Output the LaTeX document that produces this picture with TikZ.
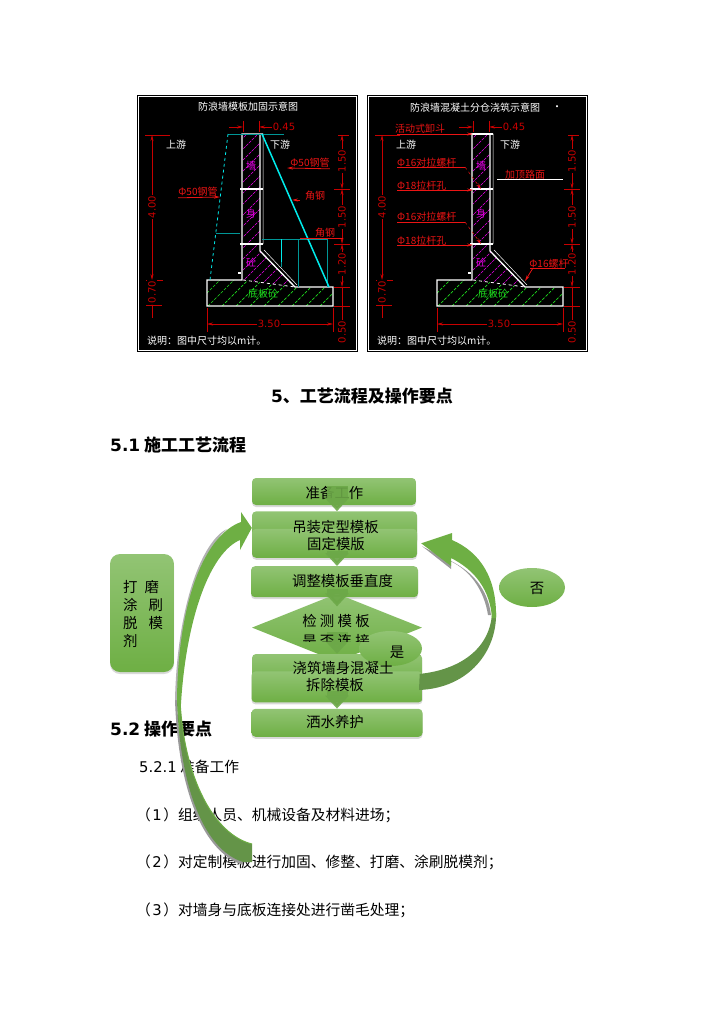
\documentclass[tikz,border=0pt]{standalone}
\usepackage{fontspec}
\setmainfont[Kerning=Off]{Noto Sans CJK SC}
\newfontfamily\latinfont{DejaVu Sans}
\usetikzlibrary{arrows.meta,calc,positioning,shadows,shapes.geometric}
\definecolor{fwtop}{RGB}{146,196,116}
\definecolor{fwbottom}{RGB}{110,175,68}
\definecolor{fwflow}{RGB}{108,168,72}
\definecolor{fwdark}{RGB}{100,148,72}
\definecolor{fwred}{RGB}{200,0,0}
\definecolor{fwlabel}{RGB}{235,20,20}
\definecolor{fwteal}{RGB}{0,150,150}
\definecolor{fwcyan}{RGB}{0,235,235}
\definecolor{fwpink}{RGB}{235,0,235}
\definecolor{fwlime}{RGB}{30,220,30}
\tikzset{
  fwbox/.style={rounded corners=4pt, top color=fwtop, bottom color=fwbottom, align=center, inner sep=0pt,
    drop shadow={shadow xshift=0pt, shadow yshift=-2pt, opacity=.3}},
  fwdiamond/.style={diamond, top color=fwtop, bottom color=fwbottom, inner sep=0pt, aspect=2.5},
  fwoval/.style={ellipse, top color=fwtop, bottom color=fwbottom, inner sep=0pt},
  fwarr/.style={line width=21pt, draw=fwflow, opacity=.9, -{Triangle[length=13pt, width=23pt]}},
  fwhead/.style={font=\fontsize{17}{20}\selectfont\bfseries, inner sep=0pt},
  fwtext/.style={inner sep=0pt, anchor=west, font=\fontsize{14.75}{18}\selectfont},
  fwword/.style={inner sep=0pt},
  cadtext/.style={font=\fontsize{10}{12}\selectfont, inner sep=0pt, text=#1},
  cadtext/.default=white,
  cadred/.style={cadtext=fwlabel},
  caddim/.style={font=\fontsize{10}{12}\selectfont\latinfont, inner sep=1pt, text=fwred, fill=black},
  dimline/.style={draw=fwred, line width=.6pt},
  dimarr/.style={dimline, {Stealth[length=6pt, width=3pt]}-{Stealth[length=6pt, width=3pt]}},
  leadarr/.style={draw=fwlabel, line width=.8pt, -{Stealth[length=6pt, width=3pt]}},
  wallline/.style={draw=white, line width=1.3pt},
  hatchpink/.style={draw=fwpink, line width=.6pt, dash pattern=on 3pt off 1pt},
  hatchlime/.style={draw=fwlime, line width=.7pt, dash pattern=on 3pt off 1.5pt}
}
% numbered item in the body text
\newcommand{\itemno}[1]{（\hspace{1.5pt}{\latinfont #1}\hspace{1.5pt}）}
% one black panel with the wall section and its dimensions
\newcommand{\wallpanel}{
  \fill[black] (137,95) rectangle (358,352);
  \draw[white, line width=.8pt] (138.5,96.5) rectangle (356.5,350.5);
  \begin{scope}
    \clip (243,134) -- (260,134) -- (260,251) -- (295,287) -- (243,280) -- cycle;
    \foreach \i in {80,91,...,296} \draw[hatchpink] (\i,290) -- ++(160,-160);
  \end{scope}
  \begin{scope}
    \clip (207,280) -- (243,280) -- (295,287) -- (333,287) -- (333,306) -- (207,306) -- cycle;
    \foreach \i in {180,194,...,333} \draw[hatchlime] (\i,306) -- ++(30,-30);
  \end{scope}
  \draw[wallline] (260,134) -- (260,251) -- (295,287) -- (333,287) -- (333,306) -- (207,306) -- (207,280) -- (242,280) -- (242,134) -- (263,134);
  \draw[white, line width=.5pt] (263,134) -- (263,244) (264,250) -- (297,285);
  \draw[wallline] (240,189) -- (263,189) (240,244) -- (263,244) (238,273) -- (241,273);
  \draw[white, line width=.8pt, dashed] (243,280) -- (295,287);
  % dimensions
  \draw[dimline] (145,135) -- (170,135) (146,280) -- (163,280) (146,305) -- (162,305);
  \draw[dimarr] (152,135) -- (152,280);
  \draw[dimarr] (152,280) -- (152,305);
  \draw[dimline] (152,305) -- (152,318);
  \draw[dimline] (338,135) -- (349,135) (334,189) -- (350,189) (334,244) -- (350,244) (334,287) -- (350,287) (334,306) -- (350,306);
  \draw[dimarr] (342,135) -- (342,189);
  \draw[dimarr] (342,189) -- (342,244);
  \draw[dimarr] (342,244) -- (342,287);
  \draw[dimline] (342,287) -- (342,340);
  \draw[dimline] (207,308) -- (207,332) (333,308) -- (333,332);
  \draw[dimarr] (207,324) -- (333,324);
  \draw[dimline] (243,121) -- (243,132) (259,121) -- (259,132);
  \draw[leadarr, draw=fwred] (229,127) -- (243,127);
  \draw[leadarr, draw=fwred] (272,127) -- (259,127);
  \node[caddim] at (284,127) {0.45};
  \node[caddim, rotate=90] at (152,207) {4.00};
  \node[caddim, rotate=90] at (152,292) {0.70};
  \node[caddim, rotate=90] at (342,161) {1.50};
  \node[caddim, rotate=90] at (342,217) {1.50};
  \node[caddim, rotate=90] at (342,264) {1.20};
  \node[caddim, rotate=90] at (342,332) {0.50};
  \node[caddim] at (269,324) {3.50};
  \node[cadtext] at (176,145) {上游};
  \node[cadtext] at (280,145) {下游};
  \node[cadtext=fwpink] at (251,166) {墙};
  \node[cadtext=fwpink] at (251,214) {身};
  \node[cadtext=fwpink] at (251,262) {砼};
  \node[cadtext=fwlime] at (263,294) {底板砼};
  \node[cadtext, anchor=west] at (147,341) {说明：图中尺寸均以m计。};
}
\begin{document}
\begin{tikzpicture}[x=1pt, y=-1pt, font=\fontsize{14.4}{18}\selectfont]
  \useasboundingbox (0,0) rectangle (724,1024);
  % left panel
  \wallpanel
  \draw[draw=fwteal, line width=.7pt] (228,134) -- (284,134) (216,233) -- (240,233) (262,239) -- (327,239);
  \draw[draw=fwteal, line width=.7pt] (298,239) -- (298,287) (327,239) -- (327,287) (281,262) -- (281,267);
  \draw[draw=fwcyan, line width=.7pt] (281,239) -- (281,262);
  \draw[draw=fwcyan, line width=.8pt, dashed] (228,134) -- (210,280);
  \draw[draw=fwcyan, line width=1.5pt] (262,134) -- (329,287);
  \node[cadtext] (ltitle) at (248,107) {防浪墙模板加固示意图};
  \node[cadred] (lpipeb) at (310,163) {Φ50钢管};
  \node[cadred] (lpipea) at (198,192) {Φ50钢管};
  \node[cadred] (langlea) at (315,196) {角钢};
  \node[cadred] (langleb) at (325,233) {角钢};
  \draw[leadarr] (lpipeb.south east) ++(0,1) -- (287,168);
  \draw[leadarr] (lpipea.south west) ++(0,1) -- (220,197);
  \draw[leadarr] (300,200) -- (292,200);
  \draw[draw=fwlabel, line width=.8pt] (300,238) -- (343,238);
  % right panel
  \begin{scope}[xshift=230pt]
    \wallpanel
    \draw[white, line width=1.3pt] (240,134) -- (263,134);
  \end{scope}
  \node[cadtext] (rtitle) at (475,108) {防浪墙混凝土分仓浇筑示意图};
  \node[cadtext] (rdot) at (557,108) {·};
  \node[cadred] (rhopper) at (420,129) {活动式卸斗};
  \node[cadred, anchor=west] (rrodc) at (397,163) {Φ16对拉螺杆};
  \node[cadred, anchor=west] (rholea) at (397,186) {Φ18拉杆孔};
  \node[cadred, anchor=west] (rrodd) at (397,217) {Φ16对拉螺杆};
  \node[cadred, anchor=west] (rholeb) at (397,241) {Φ18拉杆孔};
  \node[cadred] (rroad) at (525,175) {加顶路面};
  \node[cadred] (rbolt) at (549,264) {Φ16螺杆};
  \draw[leadarr] (397,134) -- (473,134);
  \draw[leadarr] (397,190) -- (473,190);
  \draw[leadarr] (397,245) -- (473,245);
  \draw[draw=fwlabel, line width=.8pt] (397,167) -- (465,167) (397,222) -- (465,222) (530,268) -- (565,268);
  \draw[draw=fwlabel, line width=.5pt, dashed, -{Stealth[length=6pt, width=3pt]}] (465,167) -- (481,189);
  \draw[draw=fwlabel, line width=.5pt, dashed, -{Stealth[length=6pt, width=3pt]}] (465,222) -- (481,244);
  \draw[leadarr] (533,268) -- (525,281);
  \draw[white, line width=.7pt] (497,179) -- (563,179);
  % headings
  \node[fwhead] (title) at (362,396) {{\latinfont 5}、工艺流程及操作要点};
  \node[fwhead, anchor=west] (secflow) at (110,445) {{\latinfont 5.1} 施工工艺流程};
  \node[fwhead, anchor=west] (secpoint) at (110,729) {{\latinfont 5.2} 操作要点};
  \node[fwtext] (ready) at (139,767) {{\latinfont 5.2.1} 准备工作};
  \node[fwtext] (itema) at (136,815) {\itemno{1}组织人员、机械设备及材料进场；};
  \node[fwtext] (itemb) at (136,862) {\itemno{2}对定制模板进行加固、修整、打磨、涂刷脱模剂；};
  \node[fwtext] (itemc) at (136,910) {\itemno{3}对墙身与底板连接处进行凿毛处理；};
  % flow
  \node[fwbox, minimum width=164pt, minimum height=27pt] (prep) at (334,491.5) {};
  \node[fwbox, minimum width=165pt, minimum height=33pt, below=6pt of prep, xshift=.5pt] (hoist) {};
  \node[fwbox, minimum width=165pt, minimum height=29pt, below=-16pt of hoist] (fix) {};
  \node[fwbox, minimum width=167pt, minimum height=31pt, below=8pt of fix] (adjust) {};
  \node[fwdiamond, minimum width=170pt, minimum height=68pt, below=-4pt of adjust, xshift=2.5pt] (check) {};
  \node[fwbox, minimum width=170pt, minimum height=34pt, below=-8pt of check] (cast) {};
  \node[fwbox, minimum width=171pt, minimum height=31pt, below=-17pt of cast] (remove) {};
  \node[fwbox, minimum width=171pt, minimum height=28pt, below=6pt of remove] (water) {};
  \node[fwoval, minimum width=63pt, minimum height=35pt] (yes) at (390.5,648.5) {};
  \node[fwoval, minimum width=66pt, minimum height=39pt] (no) at (532,587.5) {};
  \node[fwbox, rounded corners=10pt, minimum width=64pt, minimum height=118pt] (coat) at (142,613) {};
  \node[inner sep=0pt, anchor=west, align=left] (coattext) at (123,614) {打\hspace{7pt}磨\\涂\hspace{11pt}刷\\脱\hspace{11pt}模\\剂};
  \node[fwword] (preptext) at (334.5,493) {准备工作};
  \coordinate (flowx) at (337,0);
  \draw[fwarr] ([yshift=19pt]prep.south -| flowx) -- (hoist.north -| flowx);
  \draw[fwarr] ([yshift=7pt]fix.south -| flowx) -- (adjust.north -| flowx);
  \draw[fwarr] ([yshift=8pt]adjust.south -| flowx) -- ([yshift=-13pt]check.north -| flowx);
  \draw[fwarr] ([yshift=30pt]check.south -| flowx) -- (cast.north -| flowx);
  \draw[fwarr] ([yshift=12pt]remove.south -| flowx) -- (water.north -| flowx);
  \node[fwword] (hoisttext) at (335.5,527) {吊装定型模板};
  \node[fwword] (fixtext) at (336,544) {固定模版};
  \node[fwword] (adjusttext) at (342.5,581) {调整模板垂直度};
  \begin{scope}
    \clip (300,610) rectangle (375,641);
    \node[fwword, align=center] (checktext) at (336,631) {检\hspace{3.3pt}测\hspace{3.3pt}模\hspace{3.3pt}板\\[2pt]是\hspace{3.3pt}否\hspace{3.3pt}连\hspace{3.3pt}接};
  \end{scope}
  \node[fwword] (yestext) at (397,652) {是};
  \node[fwword] (notext) at (537,588) {否};
  \node[fwword] (casttext) at (343,668) {浇筑墙身混凝土};
  \node[fwword] (removetext) at (335,685) {拆除模板};
  \node[fwword] (watertext) at (335,722) {洒水养护};
  % big curved arrows
  \coordinate (backtip) at ([xshift=4pt]fix.east);
  \coordinate (backtail) at ([xshift=-3pt, yshift=13pt]remove.east);
  \fill[gray!80] ($(backtip)+(1,3)$) -- (451,569) -- (451,561) .. controls (473,572) and (488,590) .. (491,615) -- (488,615) .. controls (484,590) and (470,570) .. (450,561) -- cycle;
  \fill[fwdark] (496,613) .. controls (497,650) and (470,688) .. (419,690) -- (backtail) .. controls (458,670) and (490,650) .. (492,613) -- cycle;
  \fill[fwbottom] (backtip) -- (452,533) -- (452,540) .. controls (480,552) and (497,578) .. (496,618) -- (492,618) .. controls (490,590) and (475,570) .. (451,558) -- (451,566) -- cycle;
  \coordinate (overtip) at (hoist.west);
  \fill[gray!80] (175,700) .. controls (178,790) and (203,852) .. (243,865) -- (243,860) .. controls (210,845) and (180,790) .. (177,700) -- cycle;
  \fill[gray!60] (225,530) .. controls (200,545) and (177,610) .. (175,700) -- (178,700) .. controls (180,610) and (207,545) .. (227,529) -- cycle;
  \fill[fwdark] (177,700) .. controls (180,790) and (205,850) .. (243,862) -- (252,862) -- (252,844) .. controls (215,835) and (184,780) .. (180,700) -- cycle;
  \draw[fwbottom, line width=1pt] (252,844) .. controls (215,835) and (184,780) .. (180,700);
  \fill[fwbottom] (overtip) -- (241,512) -- (241,522) .. controls (205,535) and (178,600) .. (177,700) -- (180,737) .. controls (180,640) and (205,555) .. (240,540) -- (240,550) -- cycle;
\end{tikzpicture}
\end{document}
